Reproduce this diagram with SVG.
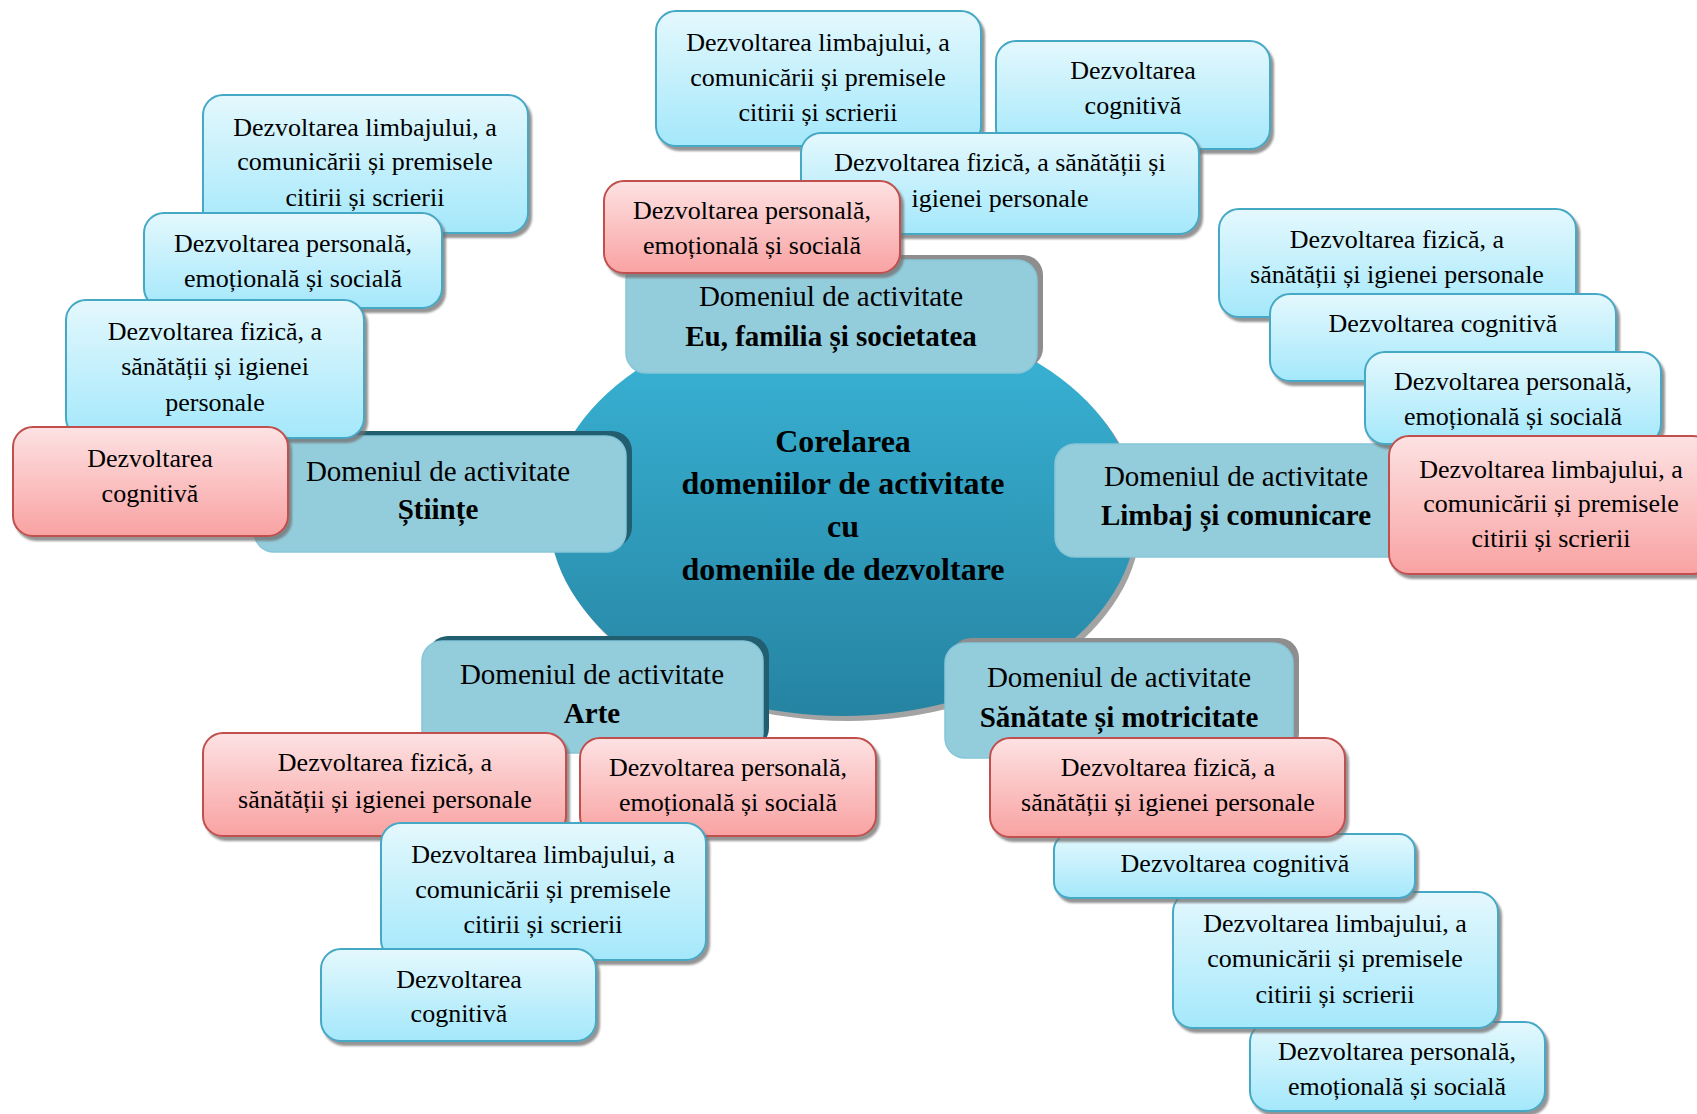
<svg xmlns="http://www.w3.org/2000/svg" width="1697" height="1114" viewBox="0 0 1697 1114" font-family="'Liberation Serif', 'Times New Roman', serif">
<defs>
<linearGradient id="gBlue" x1="0" y1="0" x2="0" y2="1">
<stop offset="0" stop-color="#e4f8fd"/>
<stop offset="1" stop-color="#a4e8fb"/>
</linearGradient>
<linearGradient id="gRed" x1="0" y1="0" x2="0" y2="1">
<stop offset="0" stop-color="#fde2e3"/>
<stop offset="1" stop-color="#f9a2a2"/>
</linearGradient>
<linearGradient id="gCore" x1="0" y1="0" x2="0" y2="1">
<stop offset="0" stop-color="#3ab6d8"/>
<stop offset="1" stop-color="#2683a2"/>
</linearGradient>
<filter id="sh" x="-10%" y="-10%" width="125%" height="130%">
<feDropShadow dx="3" dy="4" stdDeviation="1.2" flood-color="#707070" flood-opacity="0.75"/>
</filter>
<style>
text{font-family:'Liberation Serif','Times New Roman',serif;fill:#000;text-anchor:middle}
.s{font-size:26px}
.d{font-size:29px}
.b{font-weight:bold}
.c{font-size:32px;font-weight:bold}
.blue{fill:url(#gBlue);stroke:#45a8c5;stroke-width:2;filter:url(#sh)}
.red{fill:url(#gRed);stroke:#c0504d;stroke-width:2;filter:url(#sh)}
.dom{fill:#93cddc;stroke:#86c6d8;stroke-width:1.5}
.shg{fill:#8e8e8e}
.shd{fill:#215f70}
</style>
</defs>

<g id="core">
<ellipse cx="847" cy="519" rx="294" ry="202" fill="#a3a3a3"/>
<ellipse cx="843" cy="514" rx="294" ry="202" fill="url(#gCore)"/>
<text class="c" x="843" y="452">Corelarea</text>
<text class="c" x="843" y="494">domeniilor de activitate</text>
<text class="c" x="843" y="537">cu</text>
<text class="c" x="843" y="580">domeniile de dezvoltare</text>
</g>

<g id="connectors"></g>

<g id="dom-eu">
<rect class="shg" x="632" y="255" width="411" height="113" rx="20"/>
<rect class="dom" x="626" y="260" width="411" height="113" rx="20"/>
<text class="d" x="831" y="306">Domeniul de activitate</text>
<text class="d b" x="831" y="346">Eu, familia și societatea</text>
</g>
<g id="dom-stiinte">
<rect class="shd" x="260" y="431" width="372" height="116" rx="20"/>
<rect class="dom" x="254" y="436" width="372" height="116" rx="20"/>
<text class="d" x="438" y="481">Domeniul de activitate</text>
<text class="d b" x="438" y="519">Științe</text>
</g>
<g id="dom-limbaj">
<rect class="dom" x="1055" y="444" width="362" height="113" rx="20"/>
<text class="d" x="1236" y="486">Domeniul de activitate</text>
<text class="d b" x="1236" y="525">Limbaj și comunicare</text>
</g>
<g id="dom-arte">
<rect class="shd" x="428" y="636" width="341" height="112" rx="20"/>
<rect class="dom" x="422" y="641" width="341" height="112" rx="20"/>
<text class="d" x="592" y="684">Domeniul de activitate</text>
<text class="d b" x="592" y="723">Arte</text>
</g>
<g id="dom-sanatate">
<rect class="shg" x="951" y="638" width="348" height="115" rx="20"/>
<rect class="dom" x="945" y="643" width="348" height="115" rx="20"/>
<text class="d" x="1119" y="687">Domeniul de activitate</text>
<text class="d b" x="1119" y="727">Sănătate și motricitate</text>
</g>

<g id="st-limbaj">
<rect class="blue" x="203" y="95" width="325" height="138" rx="20"/>
<text class="s" x="365" y="136">Dezvoltarea limbajului, a</text>
<text class="s" x="365" y="170">comunicării și premisele</text>
<text class="s" x="365" y="206">citirii și scrierii</text>
</g>
<g id="st-personala">
<rect class="blue" x="144" y="213" width="298" height="95" rx="20"/>
<text class="s" x="293" y="252">Dezvoltarea personală,</text>
<text class="s" x="293" y="287">emoțională și socială</text>
</g>
<g id="st-fizica">
<rect class="blue" x="66" y="300" width="298" height="138" rx="20"/>
<text class="s" x="215" y="340">Dezvoltarea fizică, a</text>
<text class="s" x="215" y="375">sănătății și igienei</text>
<text class="s" x="215" y="411">personale</text>
</g>
<g id="st-cognitiva">
<rect class="red" x="13" y="427" width="275" height="109" rx="20"/>
<text class="s" x="150" y="467">Dezvoltarea</text>
<text class="s" x="150" y="502">cognitivă</text>
</g>

<g id="eu-limbaj">
<rect class="blue" x="656" y="11" width="325" height="135" rx="20"/>
<text class="s" x="818" y="51">Dezvoltarea limbajului, a</text>
<text class="s" x="818" y="86">comunicării și premisele</text>
<text class="s" x="818" y="121">citirii și scrierii</text>
</g>
<g id="eu-cognitiva">
<rect class="blue" x="996" y="41" width="274" height="108" rx="20"/>
<text class="s" x="1133" y="79">Dezvoltarea</text>
<text class="s" x="1133" y="114">cognitivă</text>
</g>
<g id="eu-fizica">
<rect class="blue" x="801" y="133" width="398" height="101" rx="20"/>
<text class="s" x="1000" y="171">Dezvoltarea fizică, a sănătății și</text>
<text class="s" x="1000" y="207">igienei personale</text>
</g>
<g id="eu-personala">
<rect class="red" x="604" y="181" width="296" height="92" rx="20"/>
<text class="s" x="752" y="219">Dezvoltarea personală,</text>
<text class="s" x="752" y="254">emoțională și socială</text>
</g>

<g id="lc-fizica">
<rect class="blue" x="1219" y="209" width="357" height="108" rx="20"/>
<text class="s" x="1397" y="248">Dezvoltarea fizică, a</text>
<text class="s" x="1397" y="283">sănătății și igienei personale</text>
</g>
<g id="lc-cognitiva">
<rect class="blue" x="1270" y="294" width="346" height="87" rx="20"/>
<text class="s" x="1443" y="332">Dezvoltarea cognitivă</text>
</g>
<g id="lc-personala">
<rect class="blue" x="1365" y="352" width="296" height="92" rx="20"/>
<text class="s" x="1513" y="390">Dezvoltarea personală,</text>
<text class="s" x="1513" y="425">emoțională și socială</text>
</g>
<g id="lc-limbaj">
<rect class="red" x="1389" y="436" width="324" height="138" rx="20"/>
<text class="s" x="1551" y="478">Dezvoltarea limbajului, a</text>
<text class="s" x="1551" y="512">comunicării și premisele</text>
<text class="s" x="1551" y="547">citirii și scrierii</text>
</g>

<g id="ar-fizica">
<rect class="red" x="203" y="733" width="363" height="103" rx="20"/>
<text class="s" x="385" y="771">Dezvoltarea fizică, a</text>
<text class="s" x="385" y="808">sănătății și igienei personale</text>
</g>
<g id="ar-personala">
<rect class="red" x="580" y="738" width="296" height="98" rx="20"/>
<text class="s" x="728" y="776">Dezvoltarea personală,</text>
<text class="s" x="728" y="811">emoțională și socială</text>
</g>
<g id="ar-limbaj">
<rect class="blue" x="381" y="823" width="325" height="137" rx="20"/>
<text class="s" x="543" y="863">Dezvoltarea limbajului, a</text>
<text class="s" x="543" y="898">comunicării și premisele</text>
<text class="s" x="543" y="933">citirii și scrierii</text>
</g>
<g id="ar-cognitiva">
<rect class="blue" x="321" y="949" width="275" height="92" rx="20"/>
<text class="s" x="459" y="988">Dezvoltarea</text>
<text class="s" x="459" y="1022">cognitivă</text>
</g>

<g id="sm-personala">
<rect class="blue" x="1250" y="1022" width="295" height="89" rx="20"/>
<text class="s" x="1397" y="1060">Dezvoltarea personală,</text>
<text class="s" x="1397" y="1095">emoțională și socială</text>
</g>
<g id="sm-limbaj">
<rect class="blue" x="1173" y="892" width="325" height="136" rx="20"/>
<text class="s" x="1335" y="932">Dezvoltarea limbajului, a</text>
<text class="s" x="1335" y="967">comunicării și premisele</text>
<text class="s" x="1335" y="1003">citirii și scrierii</text>
</g>
<g id="sm-cognitiva">
<rect class="blue" x="1054" y="834" width="361" height="64" rx="16"/>
<text class="s" x="1235" y="872">Dezvoltarea cognitivă</text>
</g>
<g id="sm-fizica">
<rect class="red" x="990" y="738" width="355" height="99" rx="20"/>
<text class="s" x="1168" y="776">Dezvoltarea fizică, a</text>
<text class="s" x="1168" y="811">sănătății și igienei personale</text>
</g>
</svg>
